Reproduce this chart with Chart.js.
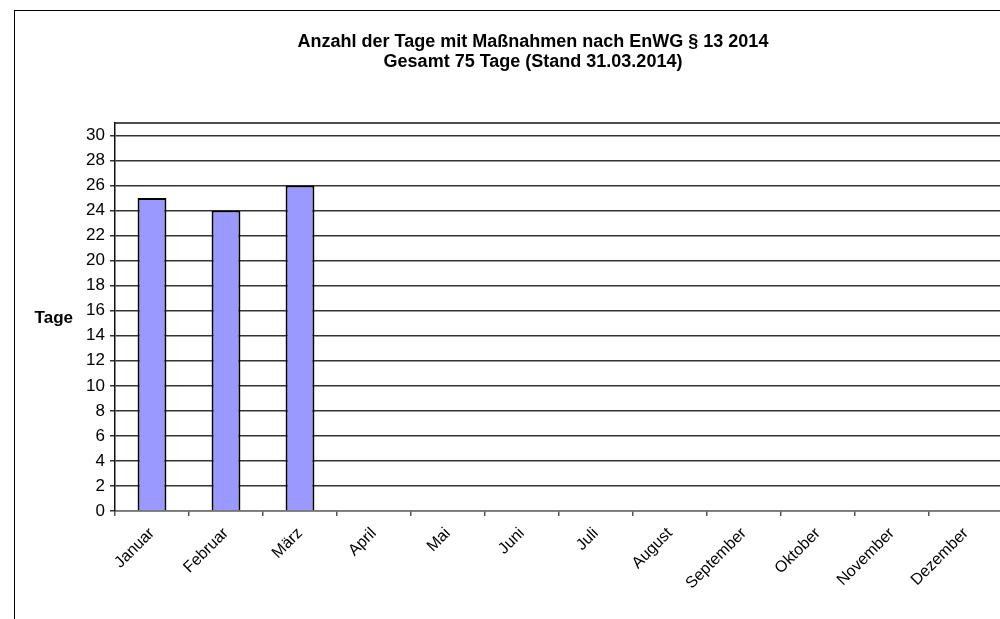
<!DOCTYPE html>
<html>
<head>
<meta charset="utf-8">
<script src="https://cdn.jsdelivr.net/npm/chart.js@4/dist/chart.umd.min.js"></script>
<style>
    html, body { margin: 0; padding: 0; background: #fff; overflow: hidden; width: 1000px; height: 619px; }
    #frame { position: absolute; left: 14px; top: 10px; width: 1040px; height: 609px; border-left: 1px solid #000; border-top: 1px solid #000; }
    #chart { display: block; }
</style>
</head>
<body>
<div id="frame"><canvas id="chart" width="1040" height="609"></canvas></div>
<script>
var months = ["Januar", "Februar", "März", "April", "Mai", "Juni", "Juli", "August", "September", "Oktober", "November", "Dezember"];
var days = [25, 24, 26, null, null, null, null, null, null, null, null, null];
var yTicks = [0, 2, 4, 6, 8, 10, 12, 14, 16, 18, 20, 22, 24, 26, 28, 30];
var titleLines = ["Anzahl der Tage mit Maßnahmen nach EnWG § 13 2014", "Gesamt 75 Tage (Stand 31.03.2014)"];
var yTitle = "Tage";

(function (global) {
    "use strict";

    var FONT = "'Liberation Sans', Arial, sans-serif";

    // title (centred on the whole frame), plot frame top line, horizontal "Tage" label
    var extras = {
        id: "extras",
        afterDraw: function (chart) {
            var ctx = chart.ctx;
            var area = chart.chartArea;
            ctx.save();
            ctx.fillStyle = "#000";
            ctx.font = "bold 18px " + FONT;
            ctx.textAlign = "center";
            ctx.textBaseline = "middle";
            titleLines.forEach(function (line, i) {
                ctx.fillText(line, 518, 31 + i * 20);
            });

            ctx.strokeStyle = "#111";
            ctx.lineWidth = 1.5;
            ctx.beginPath();
            ctx.moveTo(area.left, area.top);
            ctx.lineTo(area.right, area.top);
            ctx.stroke();

            ctx.font = "bold 17px " + FONT;
            ctx.textAlign = "right";
            ctx.textBaseline = "alphabetic";
            ctx.fillText(yTitle, 58, (area.top + area.bottom) / 2 + 6);
            ctx.restore();
        }
    };

    function init() {
        var ctx = document.getElementById("chart").getContext("2d");
        new Chart(ctx, {
            type: "bar",
            data: {
                labels: months,
                datasets: [{
                    data: days,
                    backgroundColor: "#9999FF",
                    borderColor: "#000",
                    borderWidth: 2,
                    barPercentage: 0.39,
                    categoryPercentage: 1
                }]
            },
            options: {
                responsive: false,
                animation: false,
                layout: { padding: { left: 0, right: 52, top: 112, bottom: 0 } },
                plugins: {
                    legend: { display: false },
                    tooltip: { enabled: false },
                    title: { display: false }
                },
                scales: {
                    x: {
                        grid: { offset: true, drawOnChartArea: false, tickLength: 5, color: "#555", lineWidth: 1.5 },
                        border: { color: "#777", width: 1.5 },
                        ticks: {
                            color: "#000",
                            font: { family: FONT, size: 16 },
                            minRotation: 45,
                            maxRotation: 45,
                            padding: 8
                        },
                        afterFit: function (scale) { scale.height = 109; }
                    },
                    y: {
                        min: 0,
                        max: 31,
                        afterBuildTicks: function (scale) {
                            scale.ticks = yTicks.map(function (v) { return { value: v }; });
                        },
                        grid: { color: "#333", lineWidth: 1.5, tickLength: 5 },
                        border: { color: "#111", width: 1.5 },
                        ticks: {
                            color: "#000",
                            font: { family: FONT, size: 17 },
                            padding: 5
                        },
                        afterFit: function (scale) { scale.width = 100; }
                    }
                }
            },
            plugins: [extras]
        });
    }

    document.addEventListener("DOMContentLoaded", init);
})(window);
</script>
</body>
</html>
